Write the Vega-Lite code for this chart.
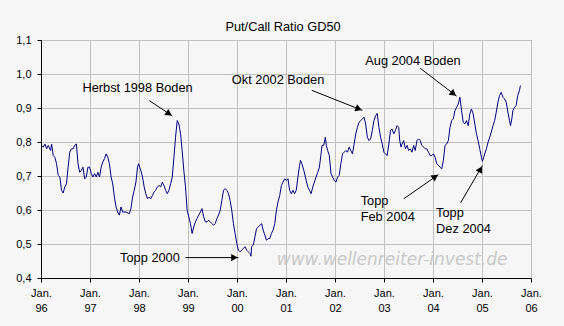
{
  "$schema": "https://vega.github.io/schema/vega-lite/v6.json",
  "width": 490,
  "height": 238,
  "autosize": {"type": "none"},
  "padding": {"left": 41, "top": 40, "right": 33, "bottom": 48},
  "background": "#f6f6f6",
  "title": {"text": "Put/Call Ratio GD50", "fontSize": 12.8, "font": "Liberation Sans", "fontWeight": "normal", "color": "#000000", "offset": 0, "dy": 0, "dx": -3},
  "config": {
    "view": {"stroke": "#808080"},
    "font": "Liberation Sans"
  },
  "datasets": {
    "gd50": [
      {"t":1996.013,"v":0.790},{"t":1996.047,"v":0.785},{"t":1996.081,"v":0.794},{"t":1996.115,"v":0.780},{"t":1996.148,"v":0.790},{"t":1996.196,"v":0.775},{"t":1996.216,"v":0.794},{"t":1996.250,"v":0.760},{"t":1996.283,"v":0.755},{"t":1996.317,"v":0.736},{"t":1996.351,"v":0.702},{"t":1996.385,"v":0.697},{"t":1996.418,"v":0.658},{"t":1996.452,"v":0.650},{"t":1996.486,"v":0.668},{"t":1996.520,"v":0.677},{"t":1996.553,"v":0.726},{"t":1996.587,"v":0.770},{"t":1996.621,"v":0.780},{"t":1996.655,"v":0.780},{"t":1996.688,"v":0.790},{"t":1996.722,"v":0.794},{"t":1996.756,"v":0.736},{"t":1996.789,"v":0.711},{"t":1996.823,"v":0.716},{"t":1996.857,"v":0.726},{"t":1996.891,"v":0.692},{"t":1996.924,"v":0.697},{"t":1996.958,"v":0.726},{"t":1996.992,"v":0.726},{"t":1997.026,"v":0.707},{"t":1997.059,"v":0.697},{"t":1997.093,"v":0.707},{"t":1997.127,"v":0.697},{"t":1997.161,"v":0.711},{"t":1997.194,"v":0.697},{"t":1997.228,"v":0.726},{"t":1997.262,"v":0.741},{"t":1997.296,"v":0.751},{"t":1997.329,"v":0.765},{"t":1997.363,"v":0.755},{"t":1997.397,"v":0.736},{"t":1997.431,"v":0.697},{"t":1997.464,"v":0.677},{"t":1997.498,"v":0.638},{"t":1997.532,"v":0.609},{"t":1997.565,"v":0.594},{"t":1997.599,"v":0.585},{"t":1997.633,"v":0.609},{"t":1997.667,"v":0.594},{"t":1997.734,"v":0.594},{"t":1997.802,"v":0.589},{"t":1997.835,"v":0.604},{"t":1997.869,"v":0.638},{"t":1997.903,"v":0.658},{"t":1997.937,"v":0.682},{"t":1997.970,"v":0.726},{"t":1997.991,"v":0.736},{"t":1998.038,"v":0.716},{"t":1998.072,"v":0.697},{"t":1998.105,"v":0.668},{"t":1998.139,"v":0.648},{"t":1998.173,"v":0.633},{"t":1998.206,"v":0.638},{"t":1998.240,"v":0.633},{"t":1998.274,"v":0.643},{"t":1998.308,"v":0.653},{"t":1998.341,"v":0.658},{"t":1998.375,"v":0.668},{"t":1998.409,"v":0.672},{"t":1998.443,"v":0.668},{"t":1998.476,"v":0.682},{"t":1998.510,"v":0.672},{"t":1998.544,"v":0.658},{"t":1998.578,"v":0.648},{"t":1998.611,"v":0.658},{"t":1998.645,"v":0.677},{"t":1998.679,"v":0.697},{"t":1998.713,"v":0.755},{"t":1998.746,"v":0.814},{"t":1998.780,"v":0.863},{"t":1998.814,"v":0.853},{"t":1998.848,"v":0.824},{"t":1998.881,"v":0.775},{"t":1998.915,"v":0.716},{"t":1998.949,"v":0.668},{"t":1998.982,"v":0.599},{"t":1999.016,"v":0.580},{"t":1999.050,"v":0.560},{"t":1999.084,"v":0.531},{"t":1999.117,"v":0.550},{"t":1999.151,"v":0.565},{"t":1999.185,"v":0.575},{"t":1999.219,"v":0.585},{"t":1999.252,"v":0.594},{"t":1999.286,"v":0.604},{"t":1999.320,"v":0.580},{"t":1999.354,"v":0.565},{"t":1999.387,"v":0.565},{"t":1999.421,"v":0.570},{"t":1999.455,"v":0.565},{"t":1999.489,"v":0.560},{"t":1999.522,"v":0.555},{"t":1999.556,"v":0.560},{"t":1999.590,"v":0.575},
      {"t":1999.623,"v":0.585},{"t":1999.657,"v":0.599},{"t":1999.691,"v":0.628},{"t":1999.725,"v":0.658},{"t":1999.758,"v":0.663},{"t":1999.792,"v":0.658},{"t":1999.826,"v":0.648},{"t":1999.860,"v":0.628},{"t":1999.893,"v":0.599},{"t":1999.927,"v":0.560},{"t":1999.961,"v":0.531},{"t":1999.995,"v":0.502},{"t":2000.028,"v":0.482},{"t":2000.062,"v":0.477},{"t":2000.096,"v":0.482},{"t":2000.130,"v":0.487},{"t":2000.163,"v":0.492},{"t":2000.197,"v":0.482},{"t":2000.231,"v":0.477},{"t":2000.265,"v":0.472},{"t":2000.285,"v":0.464},{"t":2000.298,"v":0.492},{"t":2000.332,"v":0.497},{"t":2000.366,"v":0.521},{"t":2000.399,"v":0.545},{"t":2000.433,"v":0.550},{"t":2000.467,"v":0.555},{"t":2000.501,"v":0.560},{"t":2000.534,"v":0.541},{"t":2000.568,"v":0.526},{"t":2000.602,"v":0.511},{"t":2000.636,"v":0.516},{"t":2000.669,"v":0.516},{"t":2000.703,"v":0.531},{"t":2000.737,"v":0.541},{"t":2000.771,"v":0.560},{"t":2000.804,"v":0.599},{"t":2000.838,"v":0.624},{"t":2000.872,"v":0.643},{"t":2000.906,"v":0.672},{"t":2000.939,"v":0.682},{"t":2000.973,"v":0.692},{"t":2001.007,"v":0.687},{"t":2001.040,"v":0.692},{"t":2001.074,"v":0.658},{"t":2001.108,"v":0.648},{"t":2001.142,"v":0.658},{"t":2001.175,"v":0.648},{"t":2001.209,"v":0.658},{"t":2001.243,"v":0.697},{"t":2001.277,"v":0.731},{"t":2001.297,"v":0.746},{"t":2001.324,"v":0.736},{"t":2001.364,"v":0.716},{"t":2001.412,"v":0.687},{"t":2001.445,"v":0.668},{"t":2001.479,"v":0.658},{"t":2001.513,"v":0.648},{"t":2001.547,"v":0.668},{"t":2001.580,"v":0.682},{"t":2001.614,"v":0.697},{"t":2001.648,"v":0.711},{"t":2001.682,"v":0.726},{"t":2001.715,"v":0.765},{"t":2001.735,"v":0.790},{"t":2001.769,"v":0.790},{"t":2001.783,"v":0.799},{"t":2001.803,"v":0.814},{"t":2001.823,"v":0.790},{"t":2001.850,"v":0.775},{"t":2001.884,"v":0.760},{"t":2001.918,"v":0.707},{"t":2001.951,"v":0.697},{"t":2001.985,"v":0.687},{"t":2002.019,"v":0.682},{"t":2002.053,"v":0.697},{"t":2002.086,"v":0.702},{"t":2002.120,"v":0.736},{"t":2002.154,"v":0.765},{"t":2002.188,"v":0.770},{"t":2002.221,"v":0.775},{"t":2002.255,"v":0.770},{"t":2002.289,"v":0.785},{"t":2002.323,"v":0.775},{"t":2002.356,"v":0.765},{"t":2002.390,"v":0.794},{"t":2002.424,"v":0.824},{"t":2002.457,"v":0.843},{"t":2002.491,"v":0.858},{"t":2002.525,"v":0.863},{"t":2002.559,"v":0.868},{"t":2002.592,"v":0.873},{"t":2002.626,"v":0.853},{"t":2002.660,"v":0.814},{"t":2002.694,"v":0.804},{"t":2002.727,"v":0.809},{"t":2002.761,"v":0.834},{"t":2002.795,"v":0.863},{"t":2002.829,"v":0.877},{"t":2002.862,"v":0.884},
      {"t":2002.896,"v":0.843},{"t":2002.930,"v":0.814},{"t":2002.964,"v":0.794},{"t":2002.998,"v":0.770},{"t":2003.031,"v":0.765},{"t":2003.065,"v":0.760},{"t":2003.099,"v":0.794},{"t":2003.132,"v":0.834},{"t":2003.166,"v":0.838},{"t":2003.200,"v":0.824},{"t":2003.234,"v":0.834},{"t":2003.267,"v":0.848},{"t":2003.301,"v":0.843},{"t":2003.321,"v":0.804},{"t":2003.348,"v":0.785},{"t":2003.368,"v":0.794},{"t":2003.402,"v":0.804},{"t":2003.436,"v":0.780},{"t":2003.470,"v":0.790},{"t":2003.503,"v":0.775},{"t":2003.537,"v":0.780},{"t":2003.571,"v":0.770},{"t":2003.605,"v":0.790},{"t":2003.638,"v":0.775},{"t":2003.672,"v":0.804},{"t":2003.706,"v":0.809},{"t":2003.740,"v":0.804},{"t":2003.773,"v":0.790},{"t":2003.807,"v":0.785},{"t":2003.841,"v":0.780},{"t":2003.874,"v":0.780},{"t":2003.908,"v":0.770},{"t":2003.942,"v":0.760},{"t":2003.976,"v":0.760},{"t":2004.009,"v":0.765},{"t":2004.043,"v":0.755},{"t":2004.077,"v":0.736},{"t":2004.111,"v":0.731},{"t":2004.144,"v":0.726},{"t":2004.178,"v":0.721},{"t":2004.212,"v":0.746},{"t":2004.246,"v":0.790},{"t":2004.279,"v":0.794},{"t":2004.313,"v":0.804},{"t":2004.347,"v":0.843},{"t":2004.381,"v":0.863},{"t":2004.414,"v":0.868},{"t":2004.448,"v":0.892},{"t":2004.482,"v":0.902},{"t":2004.516,"v":0.912},{"t":2004.549,"v":0.932},{"t":2004.583,"v":0.892},{"t":2004.617,"v":0.858},{"t":2004.650,"v":0.853},{"t":2004.684,"v":0.863},{"t":2004.718,"v":0.848},{"t":2004.752,"v":0.883},{"t":2004.785,"v":0.897},{"t":2004.819,"v":0.883},{"t":2004.853,"v":0.853},{"t":2004.887,"v":0.824},{"t":2004.920,"v":0.804},{"t":2004.954,"v":0.780},{"t":2004.988,"v":0.755},{"t":2005.008,"v":0.743},{"t":2005.035,"v":0.755},{"t":2005.055,"v":0.765},{"t":2005.089,"v":0.780},{"t":2005.123,"v":0.799},{"t":2005.157,"v":0.814},{"t":2005.190,"v":0.829},{"t":2005.224,"v":0.848},{"t":2005.258,"v":0.863},{"t":2005.291,"v":0.888},{"t":2005.325,"v":0.917},{"t":2005.359,"v":0.937},{"t":2005.393,"v":0.946},{"t":2005.426,"v":0.932},{"t":2005.460,"v":0.927},{"t":2005.494,"v":0.917},{"t":2005.528,"v":0.888},{"t":2005.561,"v":0.863},{"t":2005.582,"v":0.848},{"t":2005.609,"v":0.868},{"t":2005.629,"v":0.892},{"t":2005.663,"v":0.902},{"t":2005.696,"v":0.907},{"t":2005.730,"v":0.937},{"t":2005.764,"v":0.951},{"t":2005.784,"v":0.966}
    ],
    "arrows": [
      {"t":1998.207,"v":0.922,"t2":1998.678,"v2":0.877},
      {"t":1998.949,"v":0.460,"t2":2000.028,"v2":0.460},
      {"t":2001.526,"v":0.952,"t2":2002.559,"v2":0.893},
      {"t":2003.739,"v":1.017,"t2":2004.482,"v2":0.935},
      {"t":2003.403,"v":0.633,"t2":2004.111,"v2":0.704},
      {"t":2004.563,"v":0.621,"t2":2005.008,"v2":0.731}
    ],
    "centerLabels": [
      {"t":1997.970,"v":0.959,"label":"Herbst 1998 Boden"},
      {"t":1998.224,"v":0.458,"label":"Topp 2000"},
      {"t":2000.838,"v":0.981,"label":"Okt 2002 Boden"},
      {"t":2003.591,"v":1.037,"label":"Aug 2004 Boden"}
    ],
    "leftLabels": [
      {"t":2002.524,"v":0.626,"label":"Topp"},
      {"t":2002.524,"v":0.580,"label":"Feb 2004"},
      {"t":2004.063,"v":0.591,"label":"Topp"},
      {"t":2004.063,"v":0.543,"label":"Dez 2004"}
    ]
  },
  "encoding": {
    "x": {
      "field": "t", "type": "quantitative",
      "scale": {"domain": [1996, 2006], "nice": false, "zero": false},
      "axis": {
        "title": null,
        "values": [1996, 1997, 1998, 1999, 2000, 2001, 2002, 2003, 2004, 2005, 2006],
        "labelExpr": "['Jan.', substring(toString(datum.value), 2)]",
        "labelFont": "Liberation Sans", "labelFontSize": 11, "labelColor": "#000000",
        "labelLineHeight": 15, "labelPadding": 5, "labelFlush": false, "labelOverlap": false,
        "tickSize": 4, "tickColor": "#000000", "domainColor": "#000000",
        "grid": true, "gridColor": "#c0c0c0", "gridOpacity": 1, "gridWidth": 1
      }
    },
    "y": {
      "field": "v", "type": "quantitative",
      "scale": {"domain": [0.4, 1.1], "nice": false, "zero": false},
      "axis": {
        "title": null,
        "values": [0.4, 0.5, 0.6, 0.7, 0.8, 0.9, 1.0, 1.1],
        "labelExpr": "replace(format(datum.value, '.1f'), '.', ',')",
        "labelFont": "Liberation Sans", "labelFontSize": 11, "labelColor": "#000000",
        "labelPadding": 6, "labelFlush": false, "labelOverlap": false,
        "tickSize": 4, "tickColor": "#000000", "domainColor": "#000000",
        "grid": true, "gridColor": "#c0c0c0", "gridOpacity": 1, "gridWidth": 1
      }
    }
  },
  "layer": [
    {
      "data": {"values": [{"t": 2003.166, "v": 0.453, "label": "www.wellenreiter-invest.de"}]},
      "mark": {"type": "text", "font": "DejaVu Sans", "fontStyle": "italic", "fontSize": 17, "color": "#c8c8c8", "align": "center", "baseline": "middle"},
      "encoding": {"text": {"field": "label"}}
    },
    {
      "data": {"name": "gd50"},
      "mark": {"type": "line", "color": "#000080", "strokeWidth": 1}
    },
    {
      "data": {"name": "arrows"},
      "mark": {"type": "rule", "color": "#000000", "strokeWidth": 1},
      "encoding": {
        "x2": {"field": "t2"},
        "y2": {"field": "v2"}
      }
    },
    {
      "data": {"values": [{"t": 1998.611, "v": 0.883}]},
      "mark": {"type": "point", "shape": "triangle-up", "angle": 124, "size": 55, "filled": true, "color": "#000000", "opacity": 1}
    },
    {
      "data": {"values": [{"t": 1999.947, "v": 0.460}]},
      "mark": {"type": "point", "shape": "triangle-up", "angle": 90, "size": 55, "filled": true, "color": "#000000", "opacity": 1}
    },
    {
      "data": {"values": [{"t": 2002.484, "v": 0.8975}]},
      "mark": {"type": "point", "shape": "triangle-up", "angle": 111, "size": 55, "filled": true, "color": "#000000", "opacity": 1}
    },
    {
      "data": {"values": [{"t": 2004.417, "v": 0.942}]},
      "mark": {"type": "point", "shape": "triangle-up", "angle": 128, "size": 55, "filled": true, "color": "#000000", "opacity": 1}
    },
    {
      "data": {"values": [{"t": 2004.045, "v": 0.698}]},
      "mark": {"type": "point", "shape": "triangle-up", "angle": 55, "size": 55, "filled": true, "color": "#000000", "opacity": 1}
    },
    {
      "data": {"values": [{"t": 2004.968, "v": 0.720}]},
      "mark": {"type": "point", "shape": "triangle-up", "angle": 30, "size": 55, "filled": true, "color": "#000000", "opacity": 1}
    },
    {
      "data": {"name": "centerLabels"},
      "mark": {"type": "text", "font": "Liberation Sans", "fontSize": 12.8, "color": "#000000", "align": "center", "baseline": "middle"},
      "encoding": {"text": {"field": "label"}}
    },
    {
      "data": {"name": "leftLabels"},
      "mark": {"type": "text", "font": "Liberation Sans", "fontSize": 12.8, "color": "#000000", "align": "left", "baseline": "middle"},
      "encoding": {"text": {"field": "label"}}
    }
  ]
}
